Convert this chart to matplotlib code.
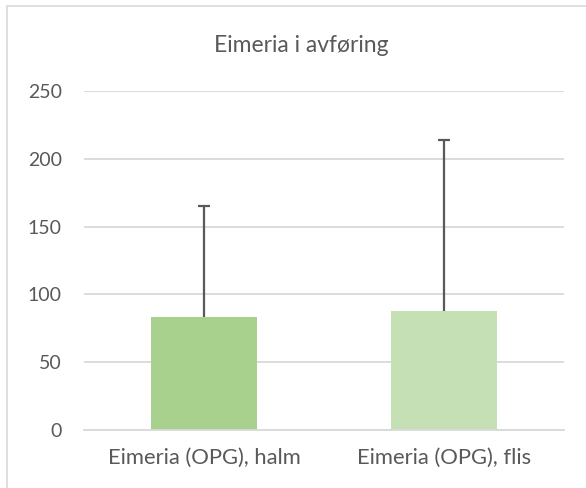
import matplotlib
matplotlib.use("Agg")
import matplotlib.pyplot as plt
from matplotlib.patches import Rectangle

categories = ["Eimeria (OPG), halm", "Eimeria (OPG), flis"]
means = [83.3, 87.8]
err_upper = [81.9, 125.7]
bar_colors = ["#A9D18E", "#C5E0B4"]
title = "Eimeria i avføring"
yticks = [0, 50, 100, 150, 200, 250]

plt.rcParams['font.family'] = ['Lato', 'DejaVu Sans']

fig = plt.figure(figsize=(5.86, 4.88), dpi=100)
W, H = 586, 488
ax = fig.add_axes([84 / W, 1 - 430 / H, 480 / W, (430 - 91) / H])

x = list(range(len(categories)))
ax.bar(x, means, width=0.44, color=bar_colors, zorder=2)
# upper error bars only, cap on top
tops = [m + e for m, e in zip(means, err_upper)]
ax.vlines(x, means, tops, color='#595959', linewidth=1.6, zorder=3)
ax.plot(x, tops, linestyle='none', marker='_', markersize=8.6,
        markeredgewidth=1.6, color='#595959', zorder=3)

ax.set_xlim(-0.5, 1.5)
ax.set_ylim(0, 250)
ax.set_yticks(yticks)
ax.set_xticks(x)
ax.set_xticklabels(categories)
ax.grid(axis='y', color='#D9D9D9', linewidth=1.3, zorder=0)
ax.tick_params(axis='both', length=0, labelsize=14, colors='#595959')
ax.tick_params(axis='y', pad=16)
ax.tick_params(axis='x', pad=13, labelsize=15.8)
for side in ['top', 'right', 'left']:
    ax.spines[side].set_visible(False)
ax.spines['bottom'].set_color('#D9D9D9')
ax.spines['bottom'].set_linewidth(1.3)

fig.text(301 / W, 1 - 45 / H, title, ha='center', va='center',
         fontsize=16.5, color='#595959')

# outer chart frame
fig.patches.append(Rectangle((7 / W, -0.05), 1.0, 1 - 6 / H + 0.05,
                             transform=fig.transFigure, fill=False,
                             edgecolor='#D9D9D9', linewidth=1.2))

fig.savefig("out.png", dpi=100)
